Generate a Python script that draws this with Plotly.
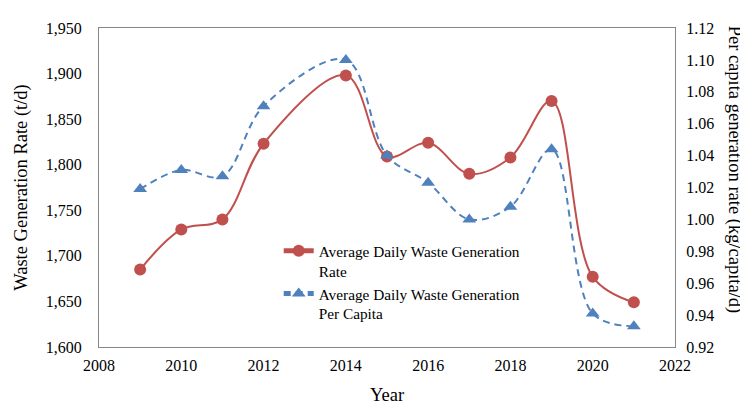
import plotly.graph_objects as go

years = [2009, 2010, 2011, 2012, 2014, 2015, 2016, 2017, 2018, 2019, 2020, 2021]
waste_rate = [1685, 1729, 1740, 1823, 1898, 1809, 1824, 1790, 1808, 1870, 1677, 1649]
per_capita = [1.019, 1.031, 1.027, 1.071, 1.100, 1.040, 1.023, 1.000, 1.008, 1.044, 0.941, 0.933]

name_rate = "Average Daily Waste Generation<br>Rate"
name_pc = "Average Daily Waste Generation<br>Per Capita"

red = "#C0504D"
blue = "#4F81BD"
font_family = "Liberation Serif, Times New Roman, serif"

fig = go.Figure()
fig.add_trace(go.Scatter(
    x=years, y=waste_rate, name=name_rate, mode="lines+markers",
    line=dict(color=red, width=2, shape="spline", smoothing=1),
    marker=dict(symbol="circle", size=12, color=red),
    yaxis="y",
))
fig.add_trace(go.Scatter(
    x=years, y=per_capita, name=name_pc, mode="lines+markers",
    line=dict(color=blue, width=2, dash="7px,5px", shape="spline", smoothing=1),
    marker=dict(symbol="triangle-up", size=12, color=blue),
    yaxis="y2",
))

axis_line = "#868686"
fig.update_layout(
    width=748, height=405,
    margin=dict(l=84, r=81, t=13, b=63),
    paper_bgcolor="white", plot_bgcolor="white",
    font=dict(family=font_family, size=16, color="black"),
    showlegend=True,
    legend=dict(x=0.312, y=0.353, xanchor="left", yanchor="top",
                bgcolor="rgba(0,0,0,0)", font=dict(size=15.3),
                valign="top", itemsizing="constant"),
    xaxis=dict(range=[2008, 2022], dtick=2, tick0=2008, showgrid=False, zeroline=False,
               showline=True, linecolor=axis_line, linewidth=1, mirror=True,
               ticks="outside", ticklen=4, tickcolor="rgba(0,0,0,0)",
               title=dict(text="Year", font=dict(size=18.5), standoff=14)),
    yaxis=dict(range=[1600, 1950], dtick=50, tickformat=",", showgrid=False, zeroline=False,
               showline=True, linecolor=axis_line, linewidth=1, mirror=True,
               ticks="outside", ticklen=13, tickcolor="rgba(0,0,0,0)",
               title=dict(text="Waste Generation Rate (t/d)", font=dict(size=18.5), standoff=13)),
    yaxis2=dict(range=[0.92, 1.12], dtick=0.02, tickformat=".2f", overlaying="y", side="right",
                showgrid=False, zeroline=False, showline=False,
                ticks="outside", ticklen=7, tickcolor="rgba(0,0,0,0)"),
    annotations=[dict(text="Per capita generation rate (kg/capita/d)", textangle=90,
                      xref="paper", yref="paper", x=1.103, y=0.555,
                      xanchor="center", yanchor="middle", showarrow=False,
                      font=dict(size=18.5, family=font_family))],
)

fig.write_html("out.html")
